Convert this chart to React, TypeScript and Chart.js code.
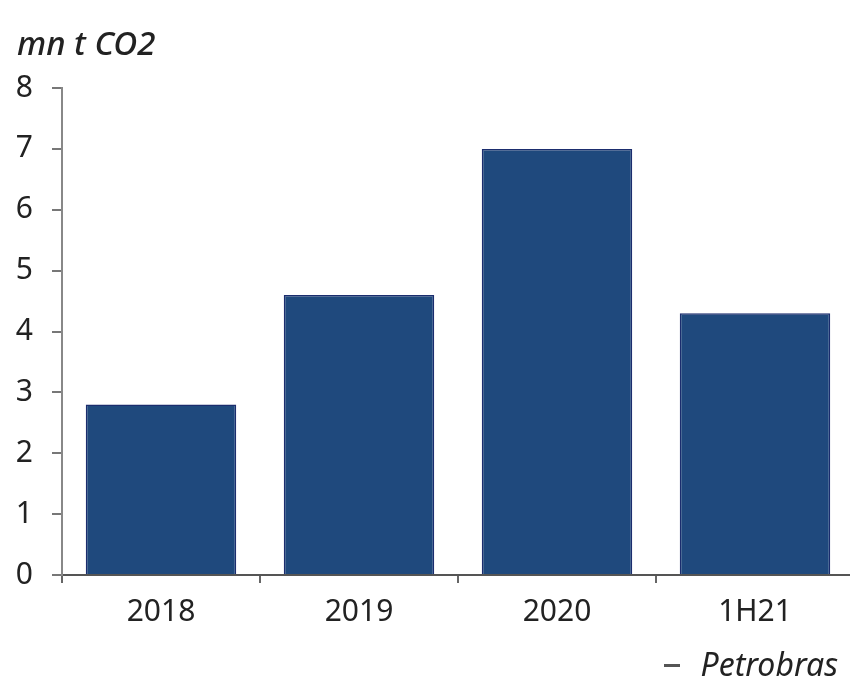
import React, { useEffect, useRef } from "react";
import { Chart, registerables } from "chart.js";

Chart.register(...registerables);

const categories = ["2018", "2019", "2020", "1H21"];
const emissions = [2.8, 4.6, 7.0, 4.3];
const yTicks = [0, 1, 2, 3, 4, 5, 6, 7, 8];
const unitLabel = "mn t CO2";
const sourcePrefix = "–";
const sourceLabel = "Petrobras";

const FONT = "'Noto Sans', 'Open Sans', sans-serif";

const textPlugin = {
  id: "textPlugin",
  afterDraw(chart: any) {
    const ctx = chart.ctx;
    ctx.save();
    ctx.fillStyle = "#222";
    ctx.textBaseline = "alphabetic";
    ctx.textAlign = "left";
    ctx.font = `italic 500 33px ${FONT}`;
    ctx.fillText(unitLabel, 17, 55);
    ctx.textAlign = "right";
    ctx.font = `italic 32px ${FONT}`;
    ctx.fillText(sourceLabel, 838, 676);
    const w = ctx.measureText(sourceLabel).width;
    ctx.fillStyle = "#555";
    ctx.font = `38px ${FONT}`;
    ctx.fillText(sourcePrefix, 838 - w - 19, 676);
    ctx.restore();
  },
};

export default function App() {
  const ref = useRef<HTMLCanvasElement | null>(null);
  useEffect(() => {
    if (!ref.current) return;
    const chart = new Chart(ref.current, {
      type: "bar",
      data: {
        labels: categories,
        datasets: [
          {
            data: emissions,
            backgroundColor: "#1f497d",
            borderColor: "#1b2d6e",
            borderWidth: 1.5,
            barPercentage: 0.76,
            categoryPercentage: 1,
          },
        ],
      },
      options: {
        responsive: false,
        animation: false,
        layout: { padding: { top: 88, left: 0, right: 0, bottom: 0 } },
        plugins: {
          legend: { display: false },
          tooltip: { enabled: false },
          title: { display: false },
        },
        scales: {
          x: {
            offset: true,
            grid: {
              offset: true,
              drawOnChartArea: false,
              drawTicks: true,
              tickLength: 8,
              color: "#666",
              lineWidth: 2,
            },
            border: { display: true, color: "#555", width: 2 },
            ticks: {
              color: "#222",
              font: { family: FONT, size: 30 },
              padding: 11,
            },
            afterFit(scale: any) {
              scale.height = 113;
            },
          },
          y: {
            min: 0,
            max: 8,
            afterBuildTicks(scale: any) {
              scale.ticks = yTicks.map((v) => ({ value: v }));
            },
            grid: {
              drawOnChartArea: false,
              drawTicks: true,
              tickLength: 10,
              color: "#777",
              lineWidth: 2,
            },
            border: { display: true, color: "#888", width: 2 },
            ticks: {
              color: "#222",
              font: { family: FONT, size: 30 },
              padding: 19,
            },
            afterFit(scale: any) {
              scale.width = 62;
            },
          },
        },
      },
      plugins: [textPlugin],
    });
    return () => chart.destroy();
  }, []);
  return (
    <div style={{ position: "fixed", left: 0, top: 0, width: 854, height: 688, background: "#fff" }}>
      <canvas ref={ref} width={854} height={688} style={{ width: 854, height: 688 }} />
    </div>
  );
}
